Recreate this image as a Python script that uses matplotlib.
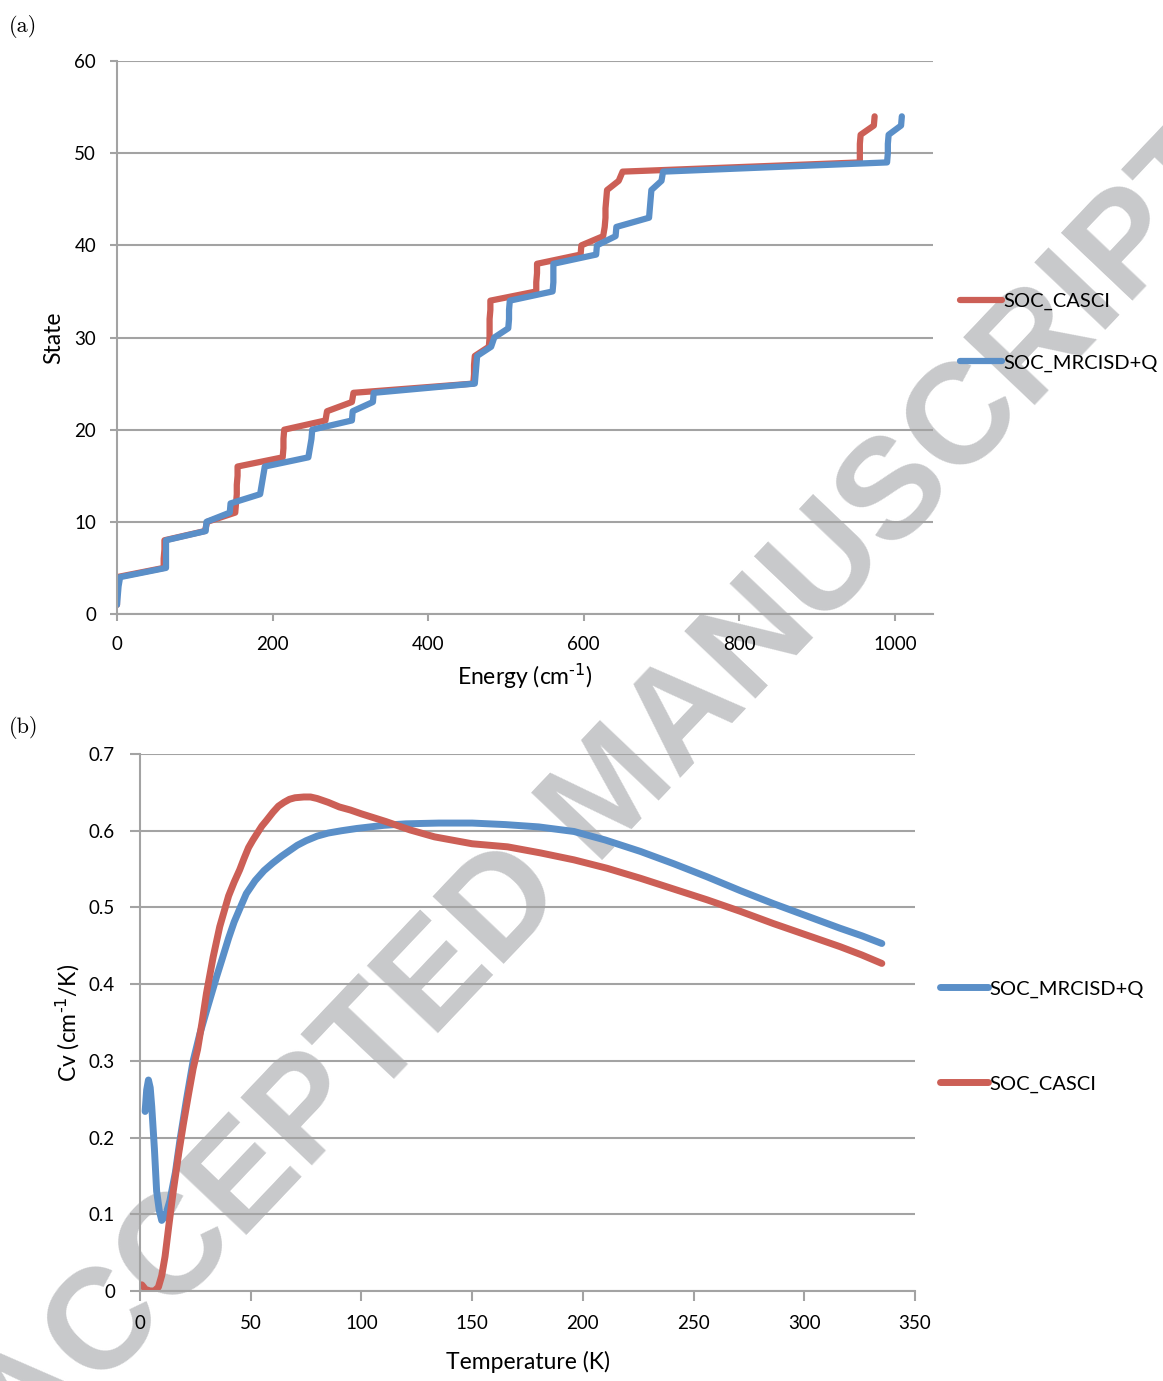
import numpy as np
import matplotlib
matplotlib.use("Agg")
import matplotlib.pyplot as plt

plt.rcParams['font.family'] = ['Lato', 'DejaVu Sans']

# panel (a): energy levels (cm-1) of states 1..54
states = list(range(1, 55))
e_casci = [0, 0, 0, 0, 60, 60, 61, 61, 113, 116,
           152, 153, 154, 154, 155, 155, 213, 214, 214, 215,
           268, 270, 302, 304, 458, 459, 459, 460, 478, 479,
           479, 479, 480, 480, 539, 539, 540, 540, 596, 597,
           625, 627, 628, 628, 629, 630, 645, 650, 955, 955,
           955, 956, 973, 974]
e_mrci = [0, 1, 2, 4, 63, 63, 63, 63, 114, 115,
          145, 146, 184, 186, 188, 190, 246, 248, 250, 251,
          302, 303, 329, 330, 460, 461, 462, 463, 481, 485,
          503, 504, 504, 505, 560, 561, 561, 561, 616, 617,
          641, 642, 684, 685, 686, 687, 700, 702, 990, 991,
          991, 992, 1008, 1009]

# panel (b): heat capacity vs temperature
t_mrci = [2.3, 3.0, 3.8, 4.6, 5.3, 6.5, 7.5, 8.7, 9.8, 11.5, 13.5, 16, 18, 21, 24,
          27, 30, 34.6, 37, 40, 42.5, 45, 48, 52, 56, 60, 64, 68, 71, 75, 80, 85,
          91, 98, 110, 120, 135, 150, 165, 180, 196, 210, 226, 241, 256, 271, 286,
          301, 316, 326, 335]
cv_mrci = [0.234, 0.262, 0.275, 0.265, 0.240, 0.185, 0.13, 0.105, 0.092, 0.098,
           0.118, 0.155, 0.196, 0.25, 0.300, 0.335, 0.365, 0.41, 0.432, 0.46,
           0.481, 0.498, 0.518, 0.535, 0.548, 0.558, 0.567, 0.575, 0.581, 0.587,
           0.593, 0.597, 0.600, 0.603, 0.607, 0.609, 0.610, 0.610, 0.608, 0.605,
           0.599, 0.588, 0.573, 0.557, 0.540, 0.522, 0.505, 0.489, 0.473, 0.463,
           0.453]
t_casci = [0.8, 2.5, 4.5, 6.5, 8.3, 9.8, 11.3, 13, 15, 17.5, 19.6, 22, 24, 26, 28,
           30, 33, 36, 40, 42.5, 45, 47, 49, 51, 53, 55, 57, 60, 62.5, 65, 67.5, 70,
           74, 77, 80, 85, 90, 95, 100, 111, 122, 133, 150, 166, 181, 196, 211, 226,
           241, 256, 271, 286, 301, 316, 326, 335]
cv_casci = [0.008, 0.002, 0.0, 0.0, 0.005, 0.02, 0.045, 0.085, 0.13, 0.18, 0.218,
            0.258, 0.29, 0.315, 0.35, 0.388, 0.435, 0.475, 0.515, 0.533, 0.549,
            0.564, 0.578, 0.588, 0.597, 0.606, 0.613, 0.624, 0.632, 0.637, 0.641,
            0.643, 0.644, 0.644, 0.642, 0.637, 0.631, 0.627, 0.622, 0.612, 0.601,
            0.592, 0.583, 0.579, 0.571, 0.562, 0.551, 0.538, 0.524, 0.510, 0.495,
            0.479, 0.464, 0.449, 0.438, 0.427]

red = '#CC5F56'
blue = '#5A8FC8'
grid_c = '#A3A3A3'

fig = plt.figure(figsize=(11.63, 13.81), dpi=100)

fig.text(0.527, 0.424, 'ACCEPTED MANUSCRIPT', rotation=46.5, rotation_mode='anchor',
         ha='center', va='center', fontsize=103, fontweight='bold',
         family='Liberation Sans', color='#C8C9CB', zorder=-5)


def style(ax):
    ax.set_facecolor('none')
    for s in ['top', 'right']:
        ax.spines[s].set_visible(False)
    for s in ['left', 'bottom']:
        ax.spines[s].set_color(grid_c)
        ax.spines[s].set_linewidth(1.5)
    ax.grid(axis='y', color=grid_c, linewidth=1.5)
    ax.set_axisbelow(True)
    ax.tick_params(colors=grid_c, labelcolor='black', labelsize=13.5,
                   width=1.5, length=5)


ax1 = fig.add_axes([0.1006, 0.5554, 0.7016, 0.4004])
style(ax1)
ax1.plot(e_casci, states, color=red, lw=4.5, solid_joinstyle='round',
         solid_capstyle='round', label='SOC_CASCI')
ax1.plot(e_mrci, states, color=blue, lw=4.5, solid_joinstyle='round',
         solid_capstyle='round', label='SOC_MRCISD+Q')
ax1.set_xlim(0, 1049)
ax1.set_ylim(0, 60)
ax1.set_xticks([0, 200, 400, 600, 800, 1000])
ax1.set_yticks(range(0, 61, 10))
ax1.tick_params(axis='y', pad=10)
ax1.tick_params(axis='x', pad=11)
ax1.set_xlabel('Energy (cm$^{\\text{-1}}$)', fontsize=16.5, labelpad=6)
ax1.set_ylabel('State', fontsize=16.5, labelpad=7)
ax1.legend(loc='center left', bbox_to_anchor=(0.8255, 0.7596),
           bbox_transform=fig.transFigure, frameon=False, fontsize=14.5,
           handlelength=2.1, handletextpad=0.05, labelspacing=2.2,
           borderpad=0, borderaxespad=0)

ax2 = fig.add_axes([0.1204, 0.0652, 0.6664, 0.3888])
style(ax2)
ax2.plot(t_mrci, cv_mrci, color=blue, lw=5, solid_joinstyle='round',
         solid_capstyle='round', label='SOC_MRCISD+Q')
ax2.plot(t_casci, cv_casci, color=red, lw=5, solid_joinstyle='round',
         solid_capstyle='round', label='SOC_CASCI')
ax2.set_xlim(0, 350)
ax2.set_ylim(0, 0.7)
ax2.set_xticks(range(0, 351, 50))
ax2.set_yticks([0, 0.1, 0.2, 0.3, 0.4, 0.5, 0.6, 0.7])
ax2.set_yticklabels(['0', '0.1', '0.2', '0.3', '0.4', '0.5', '0.6', '0.7'])
ax2.tick_params(length=7)
ax2.tick_params(axis='y', pad=11)
ax2.tick_params(axis='x', pad=10)
ax2.set_xlabel('Temperature (K)', fontsize=16.5, labelpad=14)
ax2.set_ylabel('Cv (cm$^{\\text{-1}}$/K)', fontsize=16.5, labelpad=5)
ax2.legend(loc='center left', bbox_to_anchor=(0.8083, 0.2494),
           bbox_transform=fig.transFigure, frameon=False, fontsize=14.5,
           handlelength=2.4, handletextpad=0.05, labelspacing=3.85,
           borderpad=0, borderaxespad=0)

fig.text(0.008, 0.981, '(a)', family='cmr10', fontsize=16, va='center')
fig.text(0.008, 0.473, '(b)', family='cmr10', fontsize=16, va='center')

fig.savefig('out.png', dpi=100)
